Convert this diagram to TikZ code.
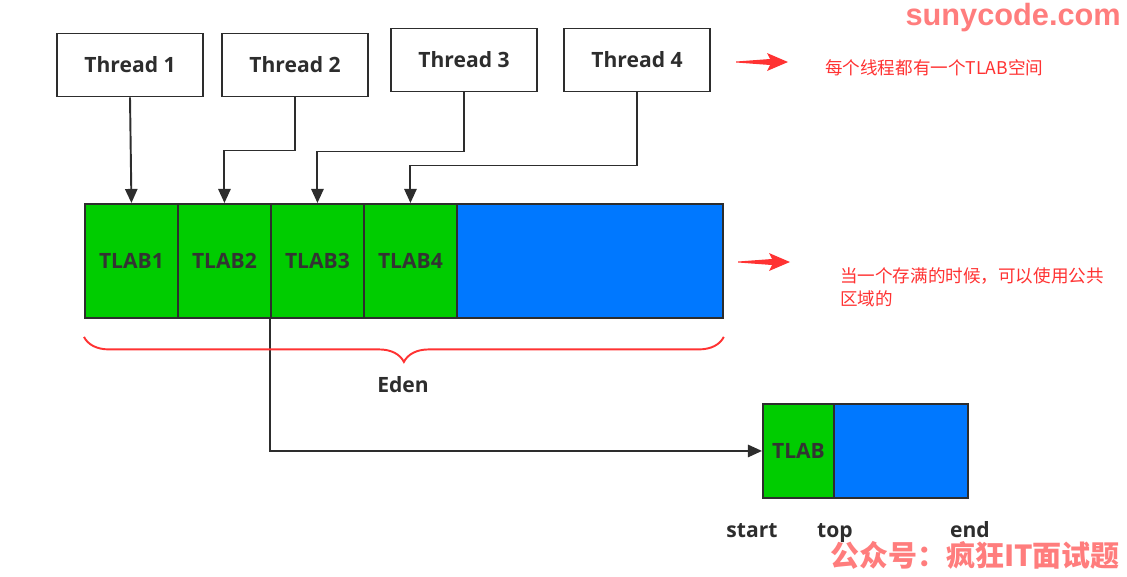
\documentclass[tikz,border=0pt]{standalone}
\usepackage{fontspec}
\setmainfont{Open Sans}
\newfontfamily\cjk{Noto Sans CJK SC}
\newfontfamily\wmfont{Liberation Sans}
\usetikzlibrary{arrows.meta,decorations.pathreplacing}
\definecolor{tlabgreen}{RGB}{0,204,0}
\definecolor{edenblue}{RGB}{0,120,255}
\definecolor{linegray}{RGB}{45,45,45}
\definecolor{notered}{RGB}{255,50,50}
\definecolor{markpink}{RGB}{255,125,125}
\begin{document}
\begin{tikzpicture}[
    x=0.02cm, y=-0.02cm,
    thread/.style={rectangle, draw=linegray, line width=1.1pt, fill=white, minimum width=2.92cm, minimum height=1.26cm, font=\fontsize{12}{14}\selectfont\bfseries, text=linegray},
    cell/.style={rectangle, draw=linegray, line width=1.1pt, fill=tlabgreen, minimum width=1.86cm, minimum height=2.28cm, anchor=north west, font=\fontsize{12}{14}\selectfont\bfseries, text=black!80},
    free/.style={rectangle, draw=linegray, line width=1.1pt, fill=edenblue, minimum height=2.28cm, anchor=north west},
    arr/.style={-{Triangle[length=8pt,width=7pt]}, line width=1.1pt, draw=linegray},
    label/.style={font=\fontsize{12}{14}\selectfont\bfseries, text=linegray, anchor=base},
    note/.style={font=\cjk\fontsize{10}{13.6}\selectfont, text=notered, align=left},
    redarrow/.pic={\fill[notered] (0,-0.5) -- (34,-3) -- (31,-9) -- (52,0) -- (31,9) -- (34,3) -- (0,0.5) -- cycle;}
]
\useasboundingbox (0,0) rectangle (1127,576);

% Top: the threads
\node[thread] (th1) at (130,65) {Thread 1};
\node[thread] (th2) at (295,65) {Thread 2};
\node[thread] (th3) at (464,60) {Thread 3};
\node[thread] (th4) at (637,60) {Thread 4};

% Middle: Eden with one TLAB per thread
\node[free, minimum width=12.76cm] (eden) at (84,203) {};
\node[cell] (t1) at (84,203) {TLAB1};
\node[cell] (t2) at (177,203) {TLAB2};
\node[cell] (t3) at (270,203) {TLAB3};
\node[cell] (t4) at (363,203) {TLAB4};

% Bottom: one TLAB on its own
\node[free, minimum width=4.1cm, minimum height=1.88cm] (tlab) at (762,403) {};
\node[cell, minimum width=1.42cm, minimum height=1.88cm] (s1) at (762,403) {TLAB};
\node[label] (start) at (752,537) {start};
\node[label] (top) at (835,537) {top};
\node[label] (end) at (970,537) {end};

% Arrows
\draw[arr] (th1.south) -- (t1.north);
\draw[arr] (th2.south) -- ++(0,53) -| (t2.north);
\draw[arr] (th3.south) -- ++(0,59) -| (t3.north);
\draw[arr] (th4.south) -- ++(0,73) -| (t4.north);
\draw[arr] (t3.south west) |- (s1.west);

% Eden brace
\draw[notered, line width=1.1pt, decorate, decoration={brace, mirror, amplitude=0.5cm}] ([yshift=-0.36cm]eden.south west) -- ([yshift=-0.36cm]eden.south east);
\node[label] (edenlbl) at (403,392) {Eden};

% Notes
\pic at (736,62) {redarrow};
\node[note, anchor=west] (note1) at (819,68) {每个线程都有一个TLAB空间};
\pic at (738,262) {redarrow};
\node[note, anchor=north west] (note2) at (834,261) {当一个存满的时候，可以使用公共\\区域的};

% Watermarks
\node[anchor=east, font=\wmfont\fontsize{17.5}{20}\selectfont\bfseries, text=markpink] (site) at (1127,18) {sunycode.com};
\node[anchor=base east, font=\cjk\fontsize{16.5}{19}\selectfont\bfseries, text=markpink] (gzh) at (1126,566) {公众号：疯狂IT面试题};

\end{tikzpicture}
\end{document}
